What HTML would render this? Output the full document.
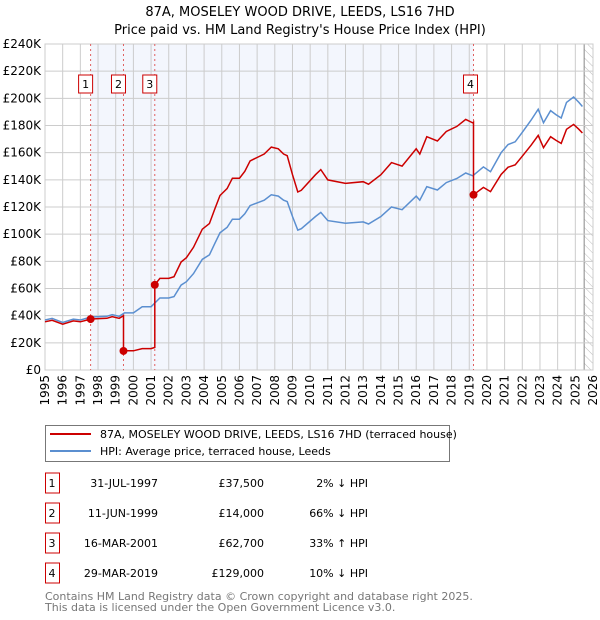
<!DOCTYPE html>
<html><head><meta charset="utf-8"><style>
body{margin:0;background:#fff;}
svg{display:block;font-family:"DejaVu Sans","Liberation Sans",sans-serif;}
</style></head><body>
<svg id="chart" width="600" height="620" viewBox="0 0 600 620">
<defs><pattern id="hatch" width="6" height="6" patternUnits="userSpaceOnUse" patternTransform="rotate(-45)"><line x1="0" y1="0" x2="0" y2="6" stroke="#bbb" stroke-width="1"/></pattern></defs>
<text x="300" y="16" text-anchor="middle" font-size="13">87A, MOSELEY WOOD DRIVE, LEEDS, LS16 7HD</text>
<text x="300" y="34" text-anchor="middle" font-size="13">Price paid vs. HM Land Registry's House Price Index (HPI)</text>
<g id="plot"></g>
<g id="legend">
<rect x="45.5" y="425.5" width="404" height="36" fill="#fff" stroke="#777"/>
<line x1="50" y1="434" x2="91" y2="434" stroke="#cc0000" stroke-width="2"/>
<text x="100" y="438" font-size="11">87A, MOSELEY WOOD DRIVE, LEEDS, LS16 7HD (terraced house)</text>
<line x1="50" y1="451" x2="91" y2="451" stroke="#5b8fd0" stroke-width="2"/>
<text x="100" y="455" font-size="11">HPI: Average price, terraced house, Leeds</text>
</g>
<g id="table" font-size="11"></g>
<text x="45" y="600" font-size="11" fill="#777">Contains HM Land Registry data © Crown copyright and database right 2025.</text>
<text x="45" y="611" font-size="11" fill="#777">This data is licensed under the Open Government Licence v3.0.</text>
</svg>
<script>
const hpiYears=[1995,1995.4,1996,1996.6,1997,1997.6,1998.5,1998.8,1999.2,1999.5,2000,2000.5,2001,2001.5,2002,2002.3,2002.7,2003,2003.4,2003.9,2004.3,2004.6,2004.9,2005.3,2005.6,2006,2006.3,2006.6,2007,2007.4,2007.8,2008.2,2008.5,2008.7,2009,2009.3,2009.5,2010.3,2010.6,2011,2012,2013,2013.3,2014,2014.6,2015.2,2016,2016.2,2016.6,2017.2,2017.7,2018.3,2018.8,2019.2,2019.8,2020.2,2020.8,2021.2,2021.6,2022,2022.5,2022.9,2023.2,2023.6,2023.9,2024.2,2024.5,2024.9,2025.2,2025.4];
const hpiValues=[36.8,38,35,37.5,36.8,39,39.5,40.7,39.5,42,42,46.6,46.6,53,53,54,62.5,65,71,81.5,84.7,93,101,105,111,111,115,121,123,125,129,128,125,124,113,103,104,113,116,110,108,109,107.5,113,120,118,128,125,135,132.5,138,141,145,143,149.5,146,160,166,168,175,184,192,182,191,188,185.5,197,201,197,194];
const saleDates=[1997.58,1999.44,2001.21,2019.24];
const salePrices=[37.5,14,62.7,129];
const saleLabels=["1","2","3","4"];
const saleDateText=["31-JUL-1997","11-JUN-1999","16-MAR-2001","29-MAR-2019"];
const salePriceText=["£37,500","£14,000","£62,700","£129,000"];
const saleHpiText=["2% ↓ HPI","66% ↓ HPI","33% ↑ HPI","10% ↓ HPI"];
const yTicks=[0,20,40,60,80,100,120,140,160,180,200,220,240];
const xTicks=[1995,1996,1997,1998,1999,2000,2001,2002,2003,2004,2005,2006,2007,2008,2009,2010,2011,2012,2013,2014,2015,2016,2017,2018,2019,2020,2021,2022,2023,2024,2025,2026];

const NS="http://www.w3.org/2000/svg";
const X0=45,X1=593,Y0=370,Y1=44;
const xs=y=>X0+(y-1995)*(X1-X0)/31;
const ys=v=>Y0-v*(Y0-Y1)/240;
const plot=document.getElementById('plot');
function mk(tag,attrs,parent){const e=document.createElementNS(NS,tag);for(const k in attrs)e.setAttribute(k,attrs[k]);(parent||plot).appendChild(e);return e;}
function hpiAt(t){for(let i=0;i<hpiYears.length-1;i++){if(t<=hpiYears[i+1])return hpiValues[i]+(hpiValues[i+1]-hpiValues[i])*(t-hpiYears[i])/(hpiYears[i+1]-hpiYears[i]);}return hpiValues[hpiValues.length-1];}

let e;
e=mk('rect',{x:xs(saleDates[0]),y:Y1,width:xs(saleDates[3])-xs(saleDates[0]),height:Y0-Y1,fill:'#f3f6fd'});


const hatchStart=2025.5;
e=mk('rect',{x:xs(hatchStart),y:Y1,width:X1-xs(hatchStart),height:Y0-Y1,fill:'url(#hatch)'});


mk('line',{x1:xs(hatchStart),y1:Y1,x2:xs(hatchStart),y2:Y0,stroke:'#888'});
yTicks.forEach(v=>{
  mk('line',{x1:X0,x2:X1,y1:ys(v),y2:ys(v),stroke:'#ccc'});
  e=mk('text',{x:X0-4,y:ys(v)+4,'text-anchor':'end','font-size':12});
  e.textContent=(v===0?'£0':'£'+v+'K');
  
  
});
xTicks.forEach(y=>{
  mk('line',{x1:xs(y),x2:xs(y),y1:Y1,y2:Y0,stroke:'#ccc'});
  e=mk('text',{x:0,y:0,'text-anchor':'end','font-size':12,transform:`translate(${xs(y)+4},${Y0+5}) rotate(-90)`});
  e.textContent=y;
  
  
});
mk('rect',{x:X0,y:Y1,width:X1-X0,height:Y0-Y1,fill:'none',stroke:'#ccc'});
saleDates.forEach((d,i)=>{
  mk('line',{x1:xs(d),x2:xs(d),y1:Y1,y2:Y0,stroke:'#e06060','stroke-dasharray':'2,3'});
  const bx=xs(d)-(i===3?10:12);
  mk('rect',{x:bx,y:75,width:14,height:18,fill:'#fff',stroke:'#cc0000'});
  e=mk('text',{x:bx+7,y:88,'text-anchor':'middle','font-size':11});
  e.textContent=saleLabels[i];
  
  
});
let pts=hpiYears.map((y,i)=>xs(y).toFixed(1)+','+ys(hpiValues[i]).toFixed(1));
e=mk('polyline',{points:pts.join(' '),fill:'none',stroke:'#5b8fd0','stroke-width':1.5});


const ratios=salePrices.map((p,i)=>p/hpiAt(saleDates[i]));
function ratioAt(t){let r=ratios[0];for(let i=0;i<saleDates.length;i++)if(t>=saleDates[i])r=ratios[i];return r;}
let rp=[];
const times=hpiYears.slice();
saleDates.forEach(d=>times.push(d));
times.sort((a,b)=>a-b);
times.forEach(t=>{
  const si=saleDates.indexOf(t);
  if(si>0){rp.push([t,hpiAt(t)*ratios[si-1]]);}
  rp.push([t,hpiAt(t)*ratioAt(t)]);
});
e=mk('polyline',{points:rp.map(p=>xs(p[0]).toFixed(1)+','+ys(p[1]).toFixed(1)).join(' '),fill:'none',stroke:'#cc0000','stroke-width':1.5});


saleDates.forEach((d,i)=>{
  e=mk('circle',{cx:xs(d),cy:ys(salePrices[i]),r:4,fill:'#cc0000'});
  
  
});
const tb=document.getElementById('table');
saleDates.forEach((d,i)=>{
  const cy=483+i*30;
  mk('rect',{x:45.5,y:cy-10,width:14,height:20,fill:'#fff',stroke:'#cc0000'},tb);
  const cells=[[52,'middle',saleLabels[i]],[158,'end',saleDateText[i]],[264,'end',salePriceText[i]],[368,'end',saleHpiText[i]]];
  cells.forEach(c=>{
    const t=mk('text',{x:c[0],y:cy+4,'text-anchor':c[1]},tb);
    t.textContent=c[2];
    
    
  });
});
</script>
</body></html>
